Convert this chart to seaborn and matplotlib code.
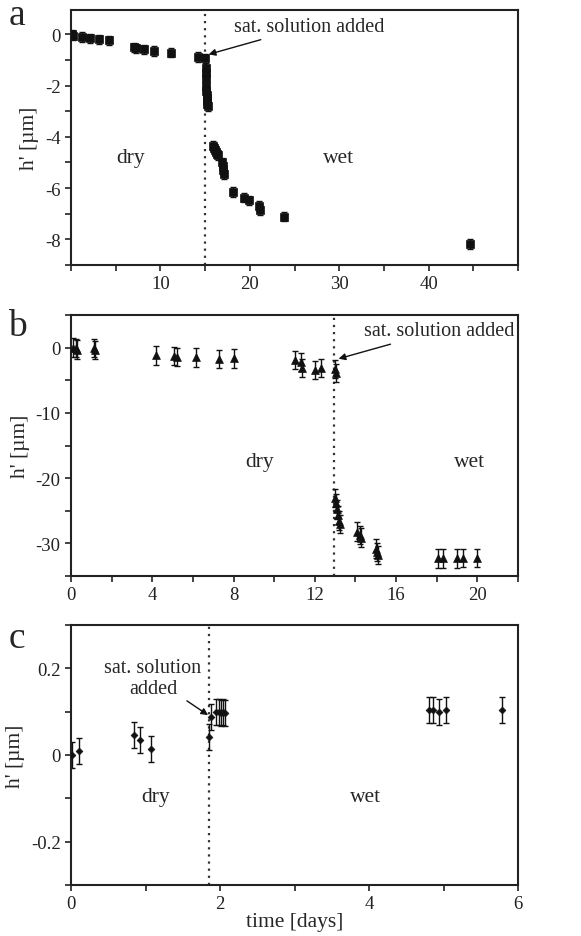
import numpy as np
import pandas as pd
import matplotlib
matplotlib.use("Agg")
import matplotlib.pyplot as plt
from matplotlib.ticker import MultipleLocator
import seaborn as sns

# ---------------- data ----------------
# panel a (squares)
a_x = [0.1, 0.25, 1.2, 2.1, 3.1, 4.2, 7.1, 7.3, 8.2, 9.3, 11.2, 14.2, 15.0,
       15.05, 15.1, 15.1, 15.15, 15.15, 15.2, 15.2, 15.25, 15.25, 15.3,
       15.9, 16.0, 16.1, 16.2, 16.3, 16.4,
       16.9, 17.0, 17.0, 17.1,
       18.1, 19.3, 19.96, 21.05, 21.1, 23.85, 44.6]
a_y = [0.0, -0.05, -0.1, -0.15, -0.2, -0.23, -0.5, -0.55, -0.58, -0.65, -0.72, -0.88, -0.93,
       -1.3, -1.5, -1.7, -2.0, -2.2, -2.35, -2.5, -2.6, -2.7, -2.8,
       -4.35, -4.42, -4.5, -4.58, -4.65, -4.72,
       -5.0, -5.15, -5.3, -5.45,
       -6.15, -6.37, -6.47, -6.7, -6.85, -7.12, -8.18]
a_err = 0.18

# panel b (triangles)
b_x = [0.08, 0.25, 0.3, 1.15, 1.2, 4.2, 5.05, 5.2, 6.17, 7.26, 8.0,
       11.0, 11.3, 11.35, 12.0, 12.3, 13.0, 13.04,
       13.0, 13.05, 13.1, 13.15, 13.2, 13.25,
       14.07, 14.2, 14.25, 15.0, 15.05, 15.1,
       18.05, 18.3, 19.0, 19.3, 20.0]
b_y = [0.0, -0.1, -0.3, -0.1, -0.4, -1.2, -1.3, -1.4, -1.5, -1.7, -1.65,
       -1.85, -2.15, -3.1, -3.4, -3.1, -3.3, -3.85,
       -23.1, -23.8, -24.8, -25.6, -26.5, -27.0,
       -28.2, -28.7, -29.1, -30.8, -31.3, -31.8,
       -32.3, -32.3, -32.3, -32.2, -32.2]
b_err = 1.4

# panel c (dots)
c_x = [0.02, 0.11, 0.84, 0.92, 1.07, 1.85, 1.88, 1.95, 1.98, 2.01, 2.04, 2.07,
       4.8, 4.86, 4.94, 5.04, 5.79]
c_y = [0.0, 0.009, 0.046, 0.035, 0.015, 0.041, 0.088, 0.10, 0.10, 0.097, 0.10, 0.098,
       0.104, 0.104, 0.099, 0.104, 0.104]
c_err = 0.03

panel_letters = ["a", "b", "c"]
ylabel = "h' [µm]"
xlabel = "time [days]"
annot = "sat. solution added"

# ---------------- style ----------------
sns.set_style("ticks")
plt.rcParams["font.family"] = ["Liberation Serif", "DejaVu Serif"]

fig = plt.figure(figsize=(5.81, 9.37), dpi=100)
W, H = 581, 937
def rect(l, t, r, b):
    return [l / W, 1 - b / H, (r - l) / W, (b - t) / H]

ax_a = fig.add_axes(rect(71, 11, 518, 266))
ax_b = fig.add_axes(rect(71, 316, 518, 577))
ax_c = fig.add_axes(rect(71, 626, 518, 886))

def style(ax):
    for s in ax.spines.values():
        s.set_linewidth(1.5)
        s.set_color("#222222")
    ax.tick_params(which="both", direction="out", length=4, width=1.2,
                   labelsize=13.5, colors="#222222", top=False, right=False)
    ax.set_ylabel(ylabel, fontsize=15.5, labelpad=4)
    ax.set_xlabel("")

def plot_panel(ax, x, y, err, marker, ms):
    df = pd.DataFrame({"t": x, "h": y})
    ax.errorbar(df["t"], df["h"], yerr=err, fmt="none", ecolor="#111111",
                elinewidth=1.0, capsize=2.5, capthick=1.0, zorder=2)
    sns.scatterplot(data=df, x="t", y="h", ax=ax, marker=marker, s=ms,
                    color="#111111", edgecolor="#111111", linewidth=0.5, zorder=3)

# panel a
plot_panel(ax_a, a_x, a_y, a_err, "s", 38)
ax_a.set_xlim(0, 50)
ax_a.set_ylim(-9, 0.95)
ax_a.xaxis.set_major_locator(MultipleLocator(5))
ax_a.yaxis.set_major_locator(MultipleLocator(1))
ax_a.set_xticklabels(["" if (v % 10 or v == 0 or v >= 50) else f"{int(v)}" for v in ax_a.get_xticks()])
ax_a.set_yticklabels([f"{int(v)}" if v % 2 == 0 else "" for v in ax_a.get_yticks()])
ax_a.axvline(15.0, color="#333333", ls=(0, (1, 2.2)), lw=1.6, zorder=1)
ax_a.annotate(annot, xy=(15.4, -0.78), xytext=(18.2, 0.32), fontsize=14.5,
              ha="left", va="center",
              arrowprops=dict(arrowstyle="-|>", color="#111111", lw=1.0,
                              mutation_scale=10, shrinkA=2, shrinkB=0))
ax_a.text(6.7, -4.8, "dry", fontsize=15.5, ha="center", va="center")
ax_a.text(29.9, -4.8, "wet", fontsize=15.5, ha="center", va="center")
style(ax_a)

# panel b
plot_panel(ax_b, b_x, b_y, b_err, "^", 32)
ax_b.set_xlim(0, 22)
ax_b.set_ylim(-35, 5)
ax_b.xaxis.set_major_locator(MultipleLocator(2))
ax_b.yaxis.set_major_locator(MultipleLocator(5))
ax_b.set_xticklabels([f"{int(v)}" if v % 4 == 0 and v <= 20 else "" for v in ax_b.get_xticks()])
ax_b.set_yticklabels([f"{int(v)}" if v % 10 == 0 else "" for v in ax_b.get_yticks()])
ax_b.axvline(12.95, color="#333333", ls=(0, (1, 2.2)), lw=1.6, zorder=1)
ax_b.annotate(annot, xy=(13.17, -1.7), xytext=(14.4, 2.6), fontsize=14.5,
              ha="left", va="center",
              arrowprops=dict(arrowstyle="-|>", color="#111111", lw=1.0,
                              mutation_scale=10, shrinkA=2, shrinkB=0))
ax_b.text(9.3, -17.4, "dry", fontsize=15.5, ha="center", va="center")
ax_b.text(19.6, -17.4, "wet", fontsize=15.5, ha="center", va="center")
style(ax_b)

# panel c
plot_panel(ax_c, c_x, c_y, c_err, "D", 12)
ax_c.set_xlim(0, 6)
ax_c.set_ylim(-0.3, 0.3)
ax_c.xaxis.set_major_locator(MultipleLocator(1))
ax_c.yaxis.set_major_locator(MultipleLocator(0.1))
ax_c.set_xticklabels([f"{int(round(v))}" if round(v) % 2 == 0 else "" for v in ax_c.get_xticks()])
ylabs = []
for v in ax_c.get_yticks():
    r = round(v, 2)
    if abs(r) < 1e-9:
        ylabs.append("0")
    elif abs(round(r * 10)) % 2 == 0:
        ylabs.append(f"{r:.1f}")
    else:
        ylabs.append("")
ax_c.set_yticklabels(ylabs)
ax_c.axvline(1.85, color="#333333", ls=(0, (1, 2.2)), lw=1.6, zorder=1)
ax_c.annotate("sat. solution\nadded", xy=(1.84, 0.092), xytext=(1.1, 0.178),
              fontsize=14.5, ha="center", va="center", linespacing=1.1,
              arrowprops=dict(arrowstyle="-|>", color="#111111", lw=1.0,
                              mutation_scale=10, shrinkA=0, shrinkB=0,
                              relpos=(0.8, 0.0)))
ax_c.text(1.14, -0.096, "dry", fontsize=15.5, ha="center", va="center")
ax_c.text(3.95, -0.096, "wet", fontsize=15.5, ha="center", va="center")
style(ax_c)
ax_c.set_xlabel(xlabel, fontsize=15.5, labelpad=0)

# panel letters
for ax, letter, yy in zip([ax_a, ax_b, ax_c], panel_letters, [0.98, 0.96, 0.95]):
    ax.text(-0.12, yy, letter, transform=ax.transAxes, fontsize=27,
            ha="center", va="center")

fig.savefig("out.png", dpi=100)
